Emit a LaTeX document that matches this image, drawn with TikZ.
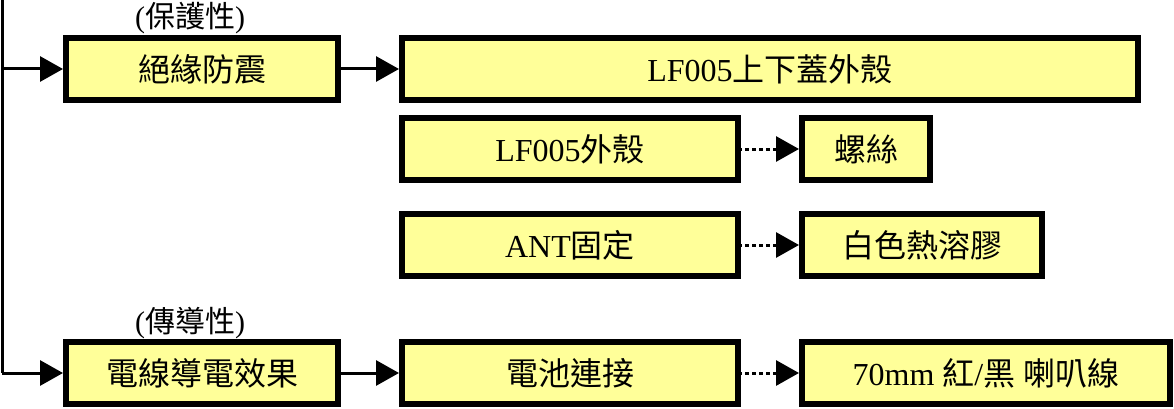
\documentclass[tikz,border=0pt]{standalone}
\usepackage{fontspec}
\setmainfont{Liberation Serif}
\newfontfamily\cjk{Noto Sans CJK TC}
\usetikzlibrary{arrows.meta}
\definecolor{boxfill}{RGB}{255,255,153}
\tikzset{
  box/.style={draw=black, line width=6pt, fill=boxfill, minimum height=62pt,
    inner sep=0pt, align=center, font=\fontsize{32}{36}\selectfont},
  lbl/.style={inner sep=0pt, font=\fontsize{30}{34}\selectfont},
  conn/.style={line width=3pt, -{Triangle[length=23pt,width=25pt]}},
  dotconn/.style={conn, dash pattern=on 3.5pt off 3.5pt, dash phase=-4pt},
}
\begin{document}
\begin{tikzpicture}[x=1pt,y=-1pt]
\useasboundingbox (0,0) rectangle (1174,409);
% boxes
\node[box, minimum width=272pt] (A) at (202,69) {\cjk 絕緣防震};
\node[box, minimum width=736pt] (B) at (770,69) {LF005{\cjk 上下蓋外殼}};
\node[box, minimum width=336pt] (C) at (570,149) {LF005{\cjk 外殼}};
\node[box, minimum width=128pt] (D) at (866,149) {\cjk 螺絲};
\node[box, minimum width=336pt] (E) at (570,245) {ANT{\cjk 固定}};
\node[box, minimum width=240pt] (F) at (922,245) {\cjk 白色熱溶膠};
\node[box, minimum width=272pt] (G) at (202,373) {\cjk 電線導電效果};
\node[box, minimum width=336pt] (H) at (570,373) {\cjk 電池連接};
\node[box, minimum width=368pt] (I) at (986,373) {70mm {\cjk 紅}/{\cjk 黑} {\cjk 喇叭線}};
% labels
\node[lbl] (LA) at (190,18) {({\cjk 保護性})};
\node[lbl] (LG) at (190,323) {({\cjk 傳導性})};
% trunk
\coordinate (top) at (2,0);
\coordinate (bend) at (2,373);
\coordinate (split) at (2,69);
\draw[line width=3pt] (top) -- (bend);
\draw[conn] (bend) -- (G.west);
\draw[conn] (split) -- (A.west);
% connectors
\draw[conn] (A.east) -- (B.west);
\draw[conn] (G.east) -- (H.west);
\draw[dotconn] (C.east) -- (D.west);
\draw[dotconn] (E.east) -- (F.west);
\draw[dotconn] (H.east) -- (I.west);
\end{tikzpicture}
\end{document}
